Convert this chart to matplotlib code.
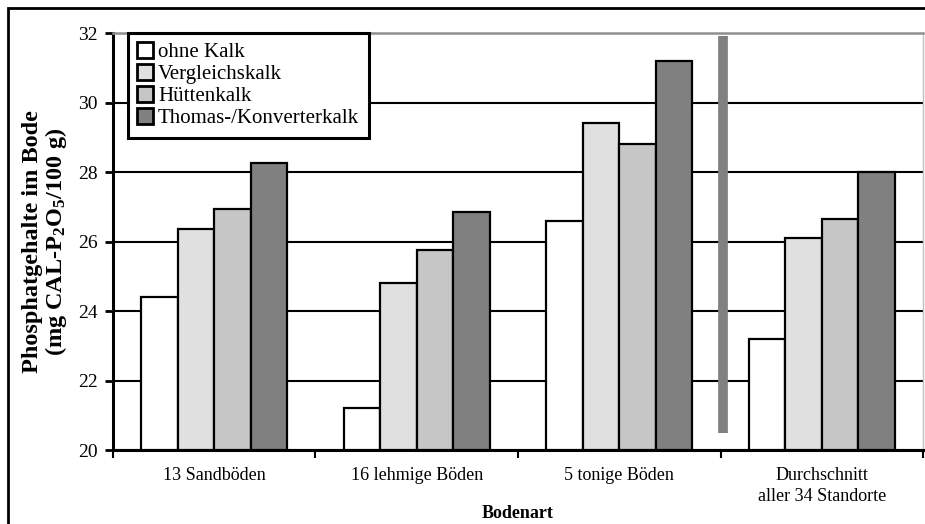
import numpy as np
import matplotlib.pyplot as plt
from matplotlib.patches import Rectangle

plt.rcParams['font.family'] = ['Liberation Serif', 'DejaVu Serif']
plt.rcParams['mathtext.fontset'] = 'custom'
plt.rcParams['mathtext.rm'] = 'Liberation Serif:bold'
plt.rcParams['mathtext.default'] = 'rm'

categories = ['13 Sandböden', '16 lehmige Böden', '5 tonige Böden', 'Durchschnitt\naller 34 Standorte']
series = ['ohne Kalk', 'Vergleichskalk', 'Hüttenkalk', 'Thomas-/Konverterkalk']
ohne = [24.4, 21.2, 26.6, 23.2]
vergleich = [26.35, 24.8, 29.4, 26.1]
huetten = [26.95, 25.75, 28.8, 26.65]
thomas = [28.25, 26.85, 31.2, 28.0]
values = [ohne, vergleich, huetten, thomas]
colors = ['#ffffff', '#e0e0e0', '#c6c6c6', '#808080']

fig = plt.figure(figsize=(9.25, 5.24), dpi=100)
ax = fig.add_axes([0.122, 0.141, 0.876, 0.796])

ind = np.arange(len(categories))
w = 0.18
for i in range(len(series)):
    ax.bar(ind + (i - 1.5) * w, [v - 20 for v in values[i]], w, bottom=20,
           color=colors[i], edgecolor='black', linewidth=1.6, label=series[i], zorder=3)

# grey separator before the average group
ax.vlines(2.51, 20.5, 31.9, color='#808080', linewidth=7, zorder=4)

ax.set_xlim(-0.5, 3.5)
ax.set_ylim(20, 32)
ax.set_yticks(range(20, 33, 2))
ax.yaxis.grid(True, color='black', linewidth=1.5, zorder=0)
ax.set_axisbelow(True)

ax.set_xticks(ind)
ax.set_xticklabels(categories, fontsize=13, linespacing=1.35)
ax.set_xticks(np.arange(-0.5, 4, 1), minor=True)
ax.tick_params(axis='x', which='major', length=0, pad=12)
ax.tick_params(axis='x', which='minor', length=6, width=1.5, direction='out')
ax.tick_params(axis='y', length=6, width=2, labelsize=14, direction='out', pad=5)

ax.spines['left'].set_linewidth(2.2)
ax.spines['bottom'].set_linewidth(2.2)
ax.spines['top'].set_color('#909090')
ax.spines['top'].set_linewidth(1.8)
ax.spines['right'].set_color('#c0c0c0')
ax.spines['right'].set_linewidth(1)

ax.set_ylabel('Phosphatgehalte im Bode\n(mg CAL-P$_2$O$_5$/100 g)', fontsize=17.5,
              fontweight='bold', labelpad=6, linespacing=1.05)
ax.set_xlabel('Bodenart', fontsize=13, fontweight='bold', labelpad=0)

leg = ax.legend(loc='upper left', bbox_to_anchor=(0.0185, 1.0), fancybox=False,
                edgecolor='black', framealpha=1, fontsize=15, borderpad=0.45,
                handlelength=0.75, handleheight=0.75, handletextpad=0.25, labelspacing=0.1,
                borderaxespad=0)
leg.get_frame().set_linewidth(2.2)
for h in leg.legend_handles:
    h.set_linewidth(2)
leg.set_zorder(5)

# outer frame
fig.patches.append(Rectangle((8 / 925, -0.1), 1.2, (524 - 8) / 524 + 0.1,
                             transform=fig.transFigure, fill=False, edgecolor='black', linewidth=2))

fig.savefig('out.png', dpi=100)
